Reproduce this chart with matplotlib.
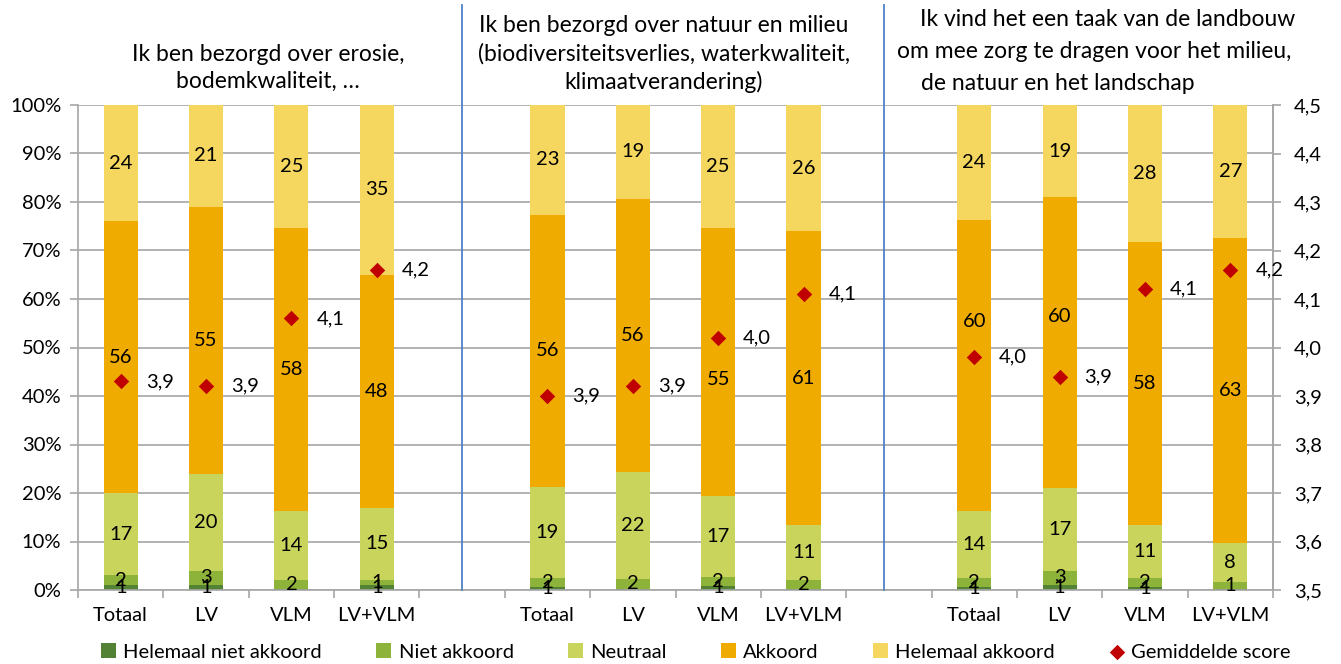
import matplotlib
matplotlib.use("Agg")
import matplotlib.pyplot as plt
import numpy as np

plt.rcParams['font.family'] = ['Lato', 'DejaVu Sans']

categories = ["Totaal", "LV", "VLM", "LV+VLM", "",
              "Totaal", "LV", "VLM", "LV+VLM", "",
              "Totaal", "LV", "VLM", "LV+VLM"]
# nan = empty spacer slot
helemaal_niet = [1, 1, 0.3, 1, np.nan, 0.7, 0.3, 0.9, 0.2, np.nan, 0.7, 1, 0.6, 0.2]
niet = [2, 3, 1.7, 1, np.nan, 1.8, 1.9, 1.8, 1.8, np.nan, 1.7, 3, 1.8, 1.4]
neutraal = [17, 20, 14.3, 15, np.nan, 18.8, 22.1, 16.7, 11.4, np.nan, 13.9, 17, 11.0, 8.1]
akkoord = [56, 55, 58.3, 48, np.nan, 56.1, 56.4, 55.2, 60.6, np.nan, 60.0, 60, 58.4, 62.9]
helemaal = [24, 21, 25.4, 35, np.nan, 22.6, 19.3, 25.4, 26.0, np.nan, 23.7, 19, 28.2, 27.4]
score = [3.93, 3.92, 4.06, 4.16, np.nan, 3.90, 3.92, 4.02, 4.11, np.nan, 3.98, 3.94, 4.12, 4.16]

series_names = ["Helemaal niet akkoord", "Niet akkoord", "Neutraal", "Akkoord", "Helemaal akkoord"]
series = [helemaal_niet, niet, neutraal, akkoord, helemaal]
colors = ["#548235", "#8DB33A", "#C9D45C", "#F0AB00", "#F5D65E"]

titles = ["Ik ben bezorgd over erosie,\nbodemkwaliteit, \u2026",
          "Ik ben bezorgd over natuur en milieu\n(biodiversiteitsverlies, waterkwaliteit,\nklimaatverandering)",
          "Ik vind het een taak van de landbouw\nom mee zorg te dragen voor het milieu,\nde natuur en het landschap"]

# manual label nudges for the 'Akkoord' labels (layout only, in axis % units)
akkoord_label_shift = {7: -3.7, 10: 9.0, 11: 5.3}

FS = 14.5
fig = plt.figure(figsize=(13.41, 6.64), dpi=100)
ax = fig.add_axes([78/1341, 1-590/664, (1273-78)/1341, (590-105)/664])
x = np.arange(len(categories))
bottom = np.zeros(len(categories))
for si, (name, vals, col) in enumerate(zip(series_names, series, colors)):
    v = np.array(vals, dtype=float)
    ax.bar(x, np.nan_to_num(v), 0.4, bottom=bottom, color=col, label=name, zorder=2)
    for xi, (b, h) in enumerate(zip(bottom, v)):
        if np.isnan(h):
            continue
        lab = int(round(h))
        if lab == 0:
            continue
        yc = b + h / 2
        if si == 3:
            yc += akkoord_label_shift.get(xi, 0)
        ax.text(xi, yc, str(lab), ha='center', va='center', fontsize=FS, color='black', zorder=4)
    bottom += np.nan_to_num(v)

ax.set_xlim(-0.5, len(categories) - 0.5)
ax.set_ylim(0, 100)
ax.set_yticks(np.arange(0, 101, 10))
ax.set_yticklabels([f"{t}%" for t in range(0, 101, 10)], fontsize=FS)
ax.yaxis.grid(True, color='#A6A6A6', linewidth=1.2, zorder=0)
ax.set_axisbelow(True)
ax.set_xticks(x)
ax.set_xticklabels(categories, fontsize=FS)
ax.tick_params(axis='x', length=0, pad=12)
ax.set_xticks(np.arange(-0.5, len(categories)), minor=True)
ax.tick_params(axis='x', which='minor', length=6, color='#A6A6A6', width=1.2)
ax.tick_params(axis='y', length=6, color='#A6A6A6', width=1.2, pad=6)
ax.spines['top'].set_visible(False)
for s in ['left', 'right', 'bottom']:
    ax.spines[s].set_color('#A6A6A6')
    ax.spines[s].set_linewidth(1.2)

ax2 = ax.twinx()
ax2.set_ylim(3.5, 4.5)
ax2.set_yticks(np.arange(3.5, 4.51, 0.1))
ax2.set_yticklabels([f"{t:.1f}".replace('.', ',') for t in np.arange(3.5, 4.51, 0.1)], fontsize=FS)
ax2.tick_params(axis='y', length=6, color='#A6A6A6', width=1.2, pad=9)
for s in ['top', 'left', 'bottom']:
    ax2.spines[s].set_visible(False)
ax2.spines['right'].set_color('#A6A6A6')
ax2.spines['right'].set_linewidth(1.2)
sc = np.array(score, dtype=float)
ax2.scatter(x, sc, marker='D', s=62, color='#C00000', linewidths=0, zorder=5, label='Gemiddelde score')
for xi, v in enumerate(sc):
    if np.isnan(v):
        continue
    ax2.annotate(f"{v:.1f}".replace('.', ','), (xi, v), xytext=(18, 0), textcoords='offset points',
                 ha='left', va='center', fontsize=FS)

# separators
for sx in [462, 884]:
    fig.add_artist(plt.Line2D([sx/1341, sx/1341], [1-5/664, 1-590/664], color='#4F81C7', linewidth=1.3))

# titles
TFS = 16.5
fig.text(268/1341, 1-68/664, titles[0], ha='center', va='center', fontsize=TFS, linespacing=1.3)
fig.text(664/1341, 1-54/664, titles[1], ha='center', va='center', fontsize=TFS, linespacing=1.38)
t3 = titles[2].split("\n")
for line, lx, ly in zip(t3, [920, 897, 921], [20, 52, 83]):
    fig.text(lx/1341, 1-ly/664, line, ha='left', va='center', fontsize=TFS)

handles, labels = ax.get_legend_handles_labels()
h2, l2 = ax2.get_legend_handles_labels()
leg = fig.legend(handles + h2, labels + l2, loc='center', bbox_to_anchor=(696/1341, 1-652/664), ncol=6,
                 frameon=False, fontsize=FS, handlelength=0.75, handleheight=0.75, columnspacing=2.7,
                 handletextpad=0.35, borderpad=0, borderaxespad=0)

fig.savefig("out.png", dpi=100)
